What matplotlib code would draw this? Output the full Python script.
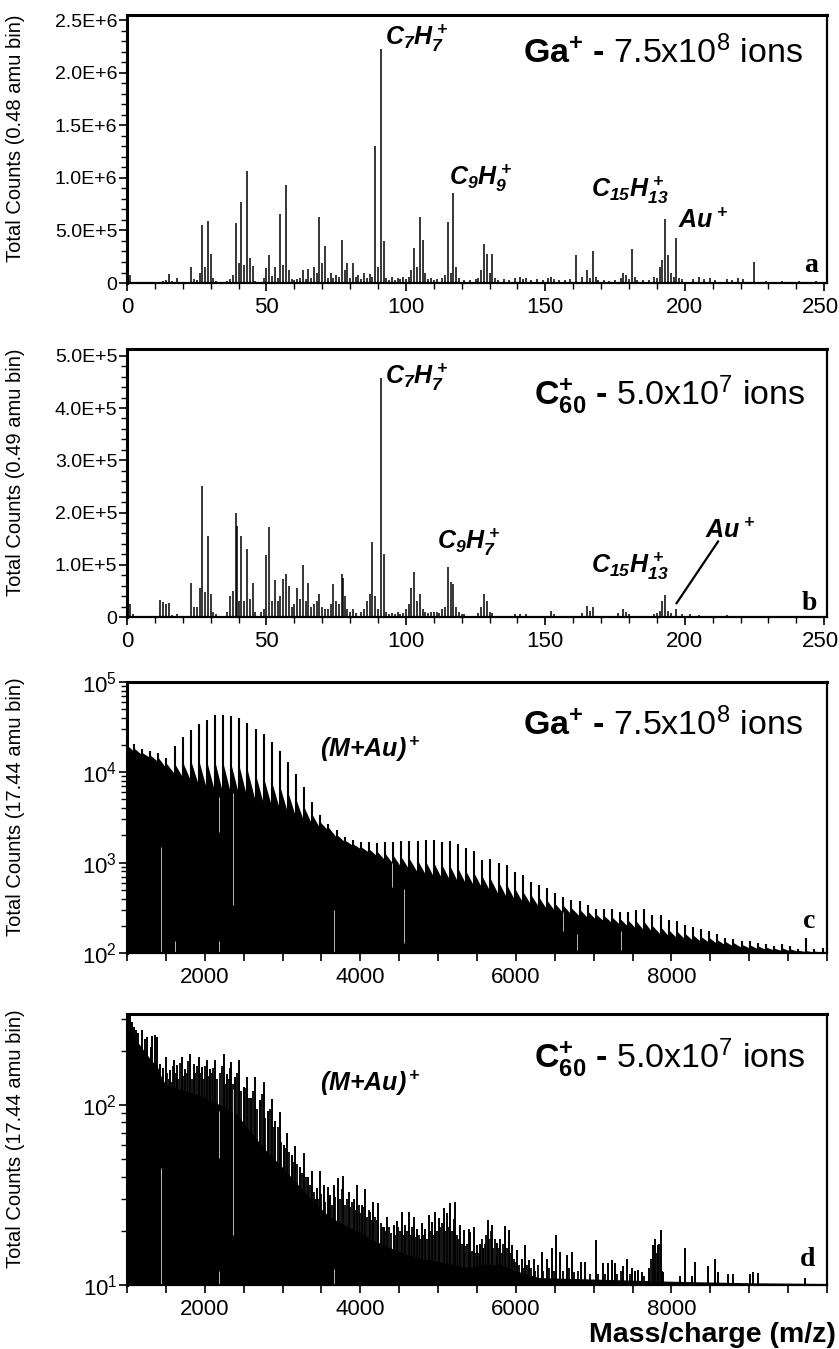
import matplotlib
matplotlib.use('Agg')
import matplotlib.pyplot as plt
from matplotlib.ticker import MultipleLocator, FixedLocator, FuncFormatter, LogLocator, NullFormatter
import numpy as np

plt.rcParams['font.family'] = ['Liberation Sans', 'DejaVu Sans']
plt.rcParams['mathtext.fontset'] = 'custom'
plt.rcParams['mathtext.rm'] = 'Liberation Sans:bold:italic'
plt.rcParams['mathtext.bf'] = 'Liberation Sans:bold'
plt.rcParams['mathtext.it'] = 'Liberation Sans:bold:italic'
plt.rcParams['mathtext.sf'] = 'Liberation Sans'

# ---------------- panel a : Ga+ low mass (counts in millions) ----------------
a_mz = [1, 2, 12, 13, 14, 15, 16, 18, 23, 24, 25, 26, 27, 28, 29, 30, 31, 32, 36, 37, 38, 39, 40,
        41, 42, 43, 44, 45, 46, 49, 50, 51, 52, 53, 54, 55, 56, 57, 58, 59, 60, 61, 62, 63, 64, 65,
        66, 67, 68, 69, 70, 71, 72, 73, 74, 75, 76, 77, 78, 79, 80, 81, 82, 83, 84, 85, 86, 87, 88,
        89, 90, 91, 92, 93, 94, 95, 96, 97, 98, 99, 100, 101, 102, 103, 104, 105, 106, 107, 108, 109,
        110, 111, 113, 114, 115, 116, 117, 118, 119, 121, 123, 125, 126, 127, 128, 129, 130, 131, 132,
        133, 135, 137, 139, 141, 142, 143, 145, 147, 149, 151, 152, 153, 155, 157, 159, 161, 163, 165,
        166, 167, 168, 169, 171, 173, 175, 177, 178, 179, 180, 181, 182, 183, 185, 187, 189, 190, 191,
        192, 193, 194, 195, 196, 197, 198, 199, 203, 205, 207, 209, 211, 215, 217, 219, 221, 225, 229,
        235, 241, 247]
a_counts_M = [.08, .01, .01, .015, .03, .085, .02, .045, .155, .04, .03, .10, .55, .15, .59, .28, .05,
              .02, .015, .04, .08, .57, .19, .77, .17, 1.07, .24, .16, .02, .05, .14, .27, .07, .15, .05,
              .66, .17, .93, .12, .04, .03, .04, .05, .12, .04, .13, .05, .15, .10, .63, .19, .35, .05,
              .10, .05, .08, .06, .41, .12, .19, .05, .19, .06, .08, .04, .10, .05, .09, .06, 1.30, .15,
              2.23, .40, .05, .03, .06, .03, .05, .04, .06, .04, .06, .12, .33, .15, .63, .41, .10, .04,
              .05, .03, .04, .05, .08, .58, .10, .86, .15, .05, .03, .03, .04, .05, .12, .37, .28, .10,
              .28, .05, .03, .04, .03, .05, .06, .04, .05, .03, .04, .03, .05, .06, .04, .03, .03, .04,
              .27, .06, .12, .05, .30, .06, .03, .03, .02, .03, .05, .10, .08, .04, .32, .06, .03, .03,
              .03, .06, .05, .15, .22, .61, .27, .10, .06, .43, .05, .04, .04, .06, .04, .05, .03, .04,
              .03, .05, .04, .20, .02, .02, .02, .02]

# ---------------- panel b : C60+ low mass (counts in 1e5) ----------------
b_mz = [1, 2, 12, 13, 14, 15, 16, 18, 19, 23, 24, 25, 26, 27, 28, 29, 30, 31, 32, 36, 37, 38, 39,
        39.5, 40, 41, 42, 43, 44, 45, 46, 48, 49, 50, 51, 52, 53, 54, 55, 56, 57, 58, 59, 60, 61, 62,
        63, 64, 65, 66, 67, 68, 69, 70, 71, 72, 73, 74, 75, 76, 77, 77.5, 78, 79, 80, 81, 82, 84, 85,
        86, 87, 88, 89, 90, 91, 92, 93, 94, 95, 96, 97, 98, 99, 100, 101, 102, 103, 104, 105, 106, 107,
        108, 109, 110, 111, 112, 113, 114, 115, 116, 117, 118, 119, 120, 121, 126, 127, 128, 129, 130,
        131, 139, 141, 143, 152, 153, 163, 165, 166, 167, 176, 178, 179, 180, 189, 190, 191, 192, 193,
        194, 195, 197, 199, 202, 205, 215, 230]
b_counts_1e5 = [.25, .05, .32, .28, .25, .27, .03, .05, .02, .65, .20, .20, .55, 2.50, .47, 1.56, .45,
                .10, .05, .10, .40, .50, 2.00, 1.75, .30, 1.55, .30, 1.30, .35, .65, .10, .10, .15, 1.18,
                1.72, .30, .70, .30, .40, .72, .83, .60, .20, .25, .55, .35, .99, .30, .65, .20, .25, .30,
                .45, .20, .15, .15, .25, .63, .30, .25, .83, .75, .40, .15, .10, .15, .08, .10, .15, .30,
                .45, 1.43, .40, .15, 4.57, 1.20, .10, .05, .08, .05, .10, .05, .08, .15, .25, .55, .86,
                .30, .45, .15, .10, .08, .10, .10, .10, .08, .15, .20, .95, .67, .64, .20, .10, .05, .05,
                .08, .20, .45, .30, .10, .08, .05, .05, .05, .12, .06, .08, .22, .12, .20, .08, .15, .10,
                .05, .06, .08, .12, .30, .42, .12, .08, .15, .05, .05, .04, .03, .02]

# ---------------- panel c : Ga+ high mass, (M+Au)+ oligomer series ----------------
c_mz = [1000, 1090, 1194, 1298, 1402, 1507, 1611, 1715, 1819, 1923, 2027, 2131, 2236, 2340, 2444,
        2548, 2652, 2756, 2861, 2965, 3069, 3173, 3277, 3381, 3486, 3590, 3694, 3798, 3902, 4006,
        4110, 4215, 4319, 4423, 4527, 4631, 4735, 4840, 4944, 5048, 5152, 5256, 5360, 5464, 5569,
        5673, 5777, 5881, 5985, 6089, 6194, 6298, 6402, 6506, 6610, 6714, 6818, 6923, 7027, 7131,
        7235, 7339, 7443, 7547, 7652, 7756, 7860, 7964, 8068, 8172, 8277, 8381, 8485, 8589, 8693,
        8797, 8901, 9006, 9110, 9214, 9318, 9422, 9526, 9630, 9735, 9839, 9943]
c_peak = [21500, 20500, 18000, 17300, 16500, 14500, 19600, 24400, 29000, 34400, 37600, 42800, 42800,
          42000, 40000, 35500, 30300, 26300, 21500, 17300, 12900, 9600, 6800, 4700, 3350, 2650, 2270,
          1940, 1780, 1700, 1680, 1650, 1680, 1700, 1740, 1740, 1740, 1780, 1780, 1680, 1720, 1600,
          1440, 1350, 1080, 1100, 1000, 950, 780, 720, 617, 566, 520, 457, 420, 385, 375, 343, 309,
          309, 303, 283, 283, 295, 309, 260, 260, 234, 224, 205, 192, 184, 176, 162, 148, 142, 136,
          136, 130, 124, 119, 124, 119, 110, 148, 110, 114]
c_shoulder = [20000, 18500, 16500, 15500, 14500, 12500, 12500, 13000, 13500, 13500, 13000, 13000,
              12500, 12000, 11500, 10500, 9500, 8700, 7800, 7000, 6000, 5000, 4100, 3400, 2800, 2450,
              2050, 1780, 1620, 1500, 1420, 1330, 1260, 1200, 1150, 1100, 1060, 1030, 1000, 950, 920,
              860, 800, 760, 700, 660, 610, 570, 520, 480, 440, 410, 380, 350, 335, 315, 305, 290, 270,
              260, 250, 240, 230, 225, 220, 200, 195, 180, 175, 165, 158, 152, 148, 140, 134, 130, 125,
              123, 120, 116, 113, 114, 111, 107, 106, 105, 105]
c_floor = [20000, 17000, 15500, 14500, 13000, 11000, 9600, 8800, 8000, 7000, 6300, 5900, 5600, 5450,
           5300, 5000, 4700, 4400, 4100, 3800, 3450, 3100, 2800, 2600, 2350, 2250, 1900, 1700, 1550,
           1420, 1300, 1180, 1060, 960, 880, 830, 775, 730, 690, 660, 630, 600, 570, 540, 510, 470,
           440, 410, 385, 360, 340, 318, 300, 288, 275, 265, 255, 245, 235, 225, 215, 205, 195, 185,
           175, 168, 160, 153, 147, 142, 137, 133, 130, 126, 122, 118, 115, 113, 111, 109, 108, 106,
           105, 104, 103, 102, 101]
# low-count bins (pale slivers inside the filled spectrum)
c_gap_mz = [1441, 1613, 2178, 2178, 2363, 3656, 4406, 4565, 6612, 6792, 7349]
c_gap_low = [100, 100, 2160, 100, 337, 100, 542, 130, 176, 107, 107]
c_gap_high = [1470, 136, 5370, 136, 5860, 296, 1000, 506, 282, 162, 176]

# ---------------- panel d : C60+ high mass ----------------
d_spike_mz = [1005, 1020, 1035, 1050, 1070, 1090, 1113, 1147, 1190, 1233, 1263, 1306, 1327, 1361,
              1391, 1421, 1460, 1505, 1556, 1608, 1642, 1707, 1749, 1814, 1856, 1921, 1963, 2028,
              2071, 2135, 2242, 2285, 2340, 2392, 2443, 2499, 2542, 2593, 2649, 2705, 2756, 2807,
              2863, 2906, 2961, 3013, 3056, 3120, 3163, 3219, 3270, 3322, 3377, 3420, 3442, 3475,
              3527, 3578, 3613, 3655, 3719, 3775, 3848, 3912, 3955, 4019, 4062, 4126, 4169, 4233,
              4298, 4341, 4427, 4469, 4534, 4577, 4620, 4684, 4727, 4791, 4834, 4877, 4920, 4963,
              5006, 5070, 5113, 5156, 5198, 5220, 5284, 5327, 5391, 5412, 5455, 5500, 5540, 5580,
              5640, 5691, 5755, 5798, 5862, 5905, 5948, 6012, 6077, 6120, 6162, 6227, 6334, 6398,
              6462, 6518, 6569, 6655, 6719, 6839, 6891, 7028, 7126, 7182, 7233, 7276, 7383, 7426,
              7490, 7533, 7576, 7619, 7705, 7769, 7790, 7825, 7863, 7897, 8111, 8176, 8262, 8304,
              8476, 8561, 8596, 8733, 8797, 9011, 9054, 9110, 9718]
d_spike_counts = [310, 300, 318, 280, 290, 270, 261, 250, 261, 232, 239, 210, 242, 245, 239, 170,
                  160, 185, 156, 177, 166, 185, 159, 191, 170, 185, 163, 177, 159, 177, 193, 149,
                  173, 143, 177, 126, 143, 110, 143, 106, 134, 93, 108, 82, 91, 60, 70, 53, 59, 45,
                  54, 40, 43, 30, 34.5, 43, 36, 35, 31.7, 36, 39.5, 40.5, 33, 30, 36, 28, 34, 25.6,
                  29, 28.6, 21, 24, 21.5, 22.8, 25.6, 21.5, 25.6, 24, 20.6, 22, 20.6, 24.6, 22.5,
                  25.6, 23.5, 26.7, 25, 28.6, 23.4, 29, 21.5, 20.2, 20.5, 19.7, 21, 16.6, 17, 16,
                  23, 21.5, 17.2, 18, 21.4, 20.3, 16.6, 15.7, 14, 16.6, 13.8, 14, 15.3, 14, 16, 18.9,
                  15.3, 14.6, 15.3, 13.5, 13.5, 17.7, 13.2, 13.2, 13.8, 13.2, 12.8, 14, 12.5, 12,
                  12.2, 11.8, 12.5, 16.6, 18, 16.6, 20.3, 11.8, 11.3, 16, 11.3, 13.5, 12.8, 14, 11.8,
                  11.5, 11.5, 11.5, 11.8, 11.6, 11]
# weaker bins between the oligomer spikes
d_minor_mz = [1520, 1540, 1575, 1590, 1625, 1660, 1680, 1725, 1765, 1790, 1830, 1875, 1895, 1940,
              1985, 2005, 2050, 2090, 2110, 2155, 2200, 2220, 2260, 2305, 2320, 2360, 2415, 2465,
              2520, 2565, 2620, 2675, 2730, 2780, 2835, 2885, 2940, 2985, 3035, 3085, 3140, 3190,
              3245, 3295, 3350, 3400, 3460, 3500, 3550, 3595, 3635, 3680, 3740, 3760, 3800, 3830,
              3870, 3890, 3935, 3980, 4000, 4040, 4090, 4110, 4150, 4190, 4210, 4260, 4280, 4320,
              4365, 4390, 4450, 4490, 4510, 4555, 4600, 4645, 4660, 4705, 4750, 4770, 4810, 4855,
              4895, 4940, 4985, 5030, 5050, 5090, 5135, 5175, 5240, 5260, 5305, 5350, 5370, 5430,
              5470, 5520, 5560, 5600, 5620, 5660, 5675, 5710, 5730, 5775, 5815, 5840, 5880, 5925,
              5970, 5990, 6040, 6100, 6140, 6190, 6250, 6280, 6350, 6420, 6490, 6600, 6680, 6750,
              6800, 6950, 7060, 7150, 7300, 7350, 7470, 7650, 7740, 7810, 7840, 7880]
d_minor_counts = [150, 140, 135, 165, 150, 140, 172, 145, 150, 175, 140, 150, 165, 150, 140, 165,
                  145, 150, 160, 140, 150, 165, 130, 140, 160, 130, 150, 120, 125, 110, 120, 95, 115,
                  85, 95, 75, 75, 62, 58, 55, 48, 47, 42, 40, 36, 33, 30, 32, 29, 30, 28, 31, 30, 34,
                  28, 30, 27, 29, 26, 28, 25, 27, 24, 26, 23, 24, 23, 22, 21, 20, 21, 19.5, 19, 21,
                  20, 19, 20, 19, 21, 18.5, 19, 18, 19, 18, 20, 19, 20, 21, 22, 20, 21, 20, 19, 18,
                  17, 16.5, 17, 15.5, 15, 15, 18, 17, 19, 18, 20, 16, 18, 16, 15, 17, 16, 15, 14,
                  13.5, 13, 12.5, 13, 12.5, 12, 13, 12, 12.5, 12, 12, 12.5, 11.8, 12, 11.5, 11.5,
                  11.5, 11.5, 12, 11.5, 11.3, 14, 15, 17, 12]
d_floor_mz = [1000, 1100, 1200, 1300, 1400, 1450, 1500, 1600, 1800, 2000, 2200, 2400, 2600, 2800,
              3000, 3200, 3400, 3600, 3800, 4000, 4200, 4400, 4600, 4800, 5000, 5200, 5400, 5600,
              5800, 6000, 6300, 7000, 8000, 9000, 10000]
d_floor_counts = [280, 235, 205, 180, 160, 140, 130, 125, 118, 110, 100, 90, 70, 55, 45, 36, 29, 24,
                  21.5, 19.5, 17.5, 16, 14.8, 14, 13.5, 13, 12.5, 13, 13, 12, 11, 10.8, 10.5, 10.3,
                  10.2]
d_gap_mz = [1441, 2178, 2178, 2363, 3656]
d_gap_low = [10, 51, 10, 18.9, 10]
d_gap_high = [44.7, 93, 12, 123, 12.3]

# ---------------- figure ----------------
fig = plt.figure(figsize=(8.39, 13.49), dpi=100)
W = 0.8343
ax_a = fig.add_axes([0.1514, 0.7902, W, 0.1987])
ax_b = fig.add_axes([0.1514, 0.5426, W, 0.1987])
ax_c = fig.add_axes([0.1514, 0.2936, W, 0.2009])
ax_d = fig.add_axes([0.1514, 0.0474, W, 0.2009])

def style(ax, xsize=16, ysize=14):
    for k, s in ax.spines.items():
        s.set_linewidth(2.2 if k in ('top', 'left') else 1.6)
        s.set_color('black')
    ax.tick_params(which='major', direction='out', length=6, width=1.2, labelsize=xsize, pad=4)
    ax.tick_params(which='minor', direction='out', length=4, width=1.0)
    ax.tick_params(axis='y', which='major', labelsize=ysize, pad=1)

def sci(v, pos):
    if v == 0:
        return '0'
    m, e = f"{v:.1E}".split('E')
    return f"{m}E+{int(e)}"

def xlab(v, pos):
    return '' if v >= 250 else f"{int(v)}"

def lowmass(ax, mz, counts, scale, ymax, ymajor, yminor, label):
    ax.vlines(mz, 0, np.array(counts) * scale, color='black', lw=1.1)
    ax.axhline(0, color='black', lw=2.0)
    ax.set_xlim(0, 251)
    ax.set_ylim(0, ymax)
    ax.xaxis.set_major_locator(MultipleLocator(50))
    ax.xaxis.set_minor_locator(MultipleLocator(10))
    ax.xaxis.set_major_formatter(FuncFormatter(xlab))
    ax.yaxis.set_major_locator(MultipleLocator(ymajor))
    ax.yaxis.set_minor_locator(MultipleLocator(yminor))
    ax.yaxis.set_major_formatter(FuncFormatter(sci))
    ax.set_ylabel(label, fontsize=14.5)
    ax.yaxis.set_label_coords(-0.146, 0.54)
    style(ax)

lowmass(ax_a, a_mz, a_counts_M, 1e6, 2.55e6, 5e5, 1e5, 'Total Counts (0.48 amu bin)')
lowmass(ax_b, b_mz, b_counts_1e5, 1e5, 5.13e5, 1e5, 2e4, 'Total Counts (0.49 amu bin)')
# last x tick label sits at the right edge of the figure
fig.text(0.9995, 0.7798, '250', ha='right', va='top', fontsize=16)
fig.text(0.9995, 0.5322, '250', ha='right', va='top', fontsize=16)

def highmass_axes(ax, ylo, yhi):
    ax.set_yscale('log')
    ax.set_xlim(1000, 10000)
    ax.set_ylim(ylo, yhi)
    ax.xaxis.set_major_locator(FixedLocator([2000, 4000, 6000, 8000]))
    ax.xaxis.set_minor_locator(MultipleLocator(500))
    ax.yaxis.set_major_locator(LogLocator(base=10))
    ax.yaxis.set_minor_locator(LogLocator(base=10, subs=np.arange(2, 10)))
    ax.yaxis.set_minor_formatter(NullFormatter())
    ax.set_ylabel('Total Counts (17.44 amu bin)', fontsize=14.5)
    ax.yaxis.set_label_coords(-0.146, 0.54)
    style(ax, 16, 16)
    ax.tick_params(which='minor', axis='x', length=6, width=1.2)

# panel c: sawtooth fill built from floor/shoulder of each oligomer, spikes as lines
cx, cy = [], []
for m, f, s in zip(c_mz, c_floor, c_shoulder):
    cx += [m, m]
    cy += [f, s]
cx.append(10000)
cy.append(c_floor[-1])
ax_c.fill_between(cx, cy, 50, color='black', lw=0)
ax_c.vlines(c_mz, 50, c_peak, color='black', lw=1.5)
ax_c.vlines(c_gap_mz, c_gap_low, c_gap_high, color='#d8d8d8', lw=0.6)
highmass_axes(ax_c, 100, 1.0e5)

# panel d
ax_d.fill_between(d_floor_mz, d_floor_counts, 5, color='black', lw=0)
ax_d.vlines(d_minor_mz, 5, d_minor_counts, color='black', lw=1.3)
ax_d.vlines(d_spike_mz, 5, d_spike_counts, color='black', lw=1.4)
ax_d.vlines(d_gap_mz, d_gap_low, d_gap_high, color='#d8d8d8', lw=0.6)
highmass_axes(ax_d, 10, 320)

# ---------------- labels ----------------
lab = dict(fontsize=18, va='baseline', ha='left')
ax_a.text(92.5, 2.26e6, r'$C_7H_7^+$', **lab)
ax_a.text(115.4, 0.93e6, r'$C_9H_9^+$', **lab)
ax_a.text(166.3, 0.82e6, r'$C_{15}H_{13}^+$', **lab)
ax_a.text(197.5, 0.52e6, r'$Au^+$', **lab)

ax_b.text(92.5, 4.46e5, r'$C_7H_7^+$', **lab)
ax_b.text(111, 1.30e5, r'$C_9H_7^+$', **lab)
ax_b.text(166.3, 0.84e5, r'$C_{15}H_{13}^+$', **lab)
ax_b.text(207.2, 1.52e5, r'$Au^+$', **lab)
ax_b.annotate('', xy=(197, 2.6e4), xytext=(212, 1.45e5),
              arrowprops=dict(arrowstyle='-', lw=1.6, color='black', shrinkA=0, shrinkB=0))

ax_c.text(3485, 14700, r'$(M{+}Au)^+$', **lab)
ax_d.text(3485, 120, r'$(M{+}Au)^+$', **lab)

ttl = dict(fontsize=24.5, ha='right', va='baseline')
t_ga = '$\\mathbf{Ga^{+}}$ $\\mathbf{\u2010}$ 7.5x10$^{\\mathsf{8}}$ ions'
t_c60 = '$\\mathbf{C_{60}^{+}}$ $\\mathbf{\u2010}$ 5.0x10$^{\\mathsf{7}}$ ions'
ax_a.text(0.966, 0.82, t_ga, transform=ax_a.transAxes, **ttl)
ax_b.text(0.969, 0.791, t_c60, transform=ax_b.transAxes, **ttl)
ax_c.text(0.966, 0.804, t_ga, transform=ax_c.transAxes, **ttl)
ax_d.text(0.969, 0.80, t_c60, transform=ax_d.transAxes, **ttl)

let = dict(fontsize=20, ha='right', va='baseline', family='Liberation Serif', weight='bold')
ax_a.text(0.987, 0.041, 'a', transform=ax_a.transAxes, **let)
ax_b.text(0.986, 0.026, 'b', transform=ax_b.transAxes, **let)
ax_c.text(0.983, 0.092, 'c', transform=ax_c.transAxes, **let)
ax_d.text(0.983, 0.07, 'd', transform=ax_d.transAxes, **let)

fig.text(0.9964, 0.0052, 'Mass/charge (m/z)', ha='right', va='baseline', fontsize=20.5, weight='bold')

fig.savefig('out.png', dpi=100)
